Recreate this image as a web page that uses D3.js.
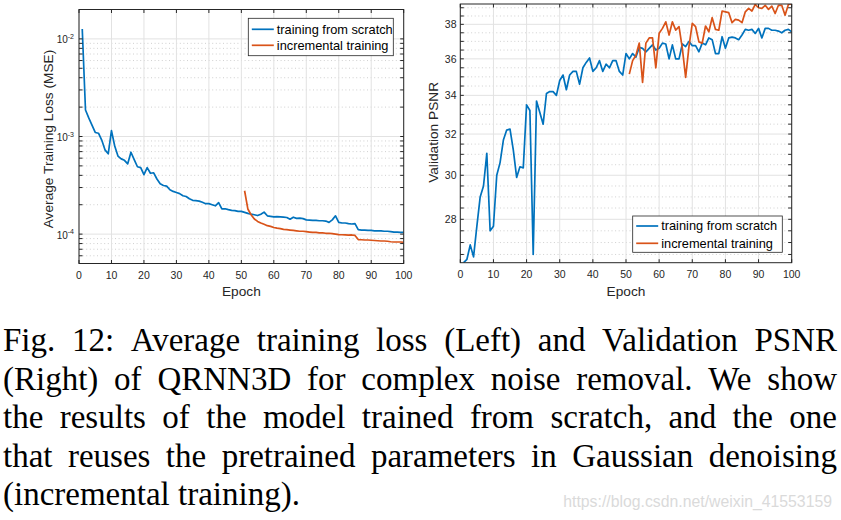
<!DOCTYPE html>
<html><head><meta charset="utf-8">
<script src="https://cdn.jsdelivr.net/npm/d3@7"></script>
<style>body{margin:0;background:#fff;} svg{display:block;}</style>
</head><body>
<svg id="c" width="841" height="520"></svg>
<script>
// ---------------- DATA ----------------
const epochsScratch = d3.range(1, 101);
const epochsIncremental = d3.range(51, 101);
const xTicks = [0,10,20,30,40,50,60,70,80,90,100];

const lossScratch = [
 1.26e-2,1.87e-3,1.55e-3,1.31e-3,1.10e-3,1.08e-3,9.2e-4,7.3e-4,6.65e-4,1.15e-3,
 8.0e-4,6.3e-4,5.9e-4,5.7e-4,5.25e-4,6.9e-4,5.8e-4,4.9e-4,4.8e-4,4.07e-4,
 4.8e-4,4.2e-4,4.25e-4,3.67e-4,3.28e-4,3.15e-4,3.1e-4,2.85e-4,2.74e-4,2.67e-4,
 2.6e-4,2.47e-4,2.43e-4,2.3e-4,2.22e-4,2.2e-4,2.18e-4,2.12e-4,2.05e-4,2.05e-4,
 2.0e-4,1.95e-4,2.1e-4,1.81e-4,1.82e-4,1.78e-4,1.75e-4,1.74e-4,1.71e-4,1.71e-4,
 1.67e-4,1.63e-4,1.6e-4,1.58e-4,1.55e-4,1.6e-4,1.68e-4,1.54e-4,1.52e-4,1.5e-4,
 1.51e-4,1.5e-4,1.49e-4,1.48e-4,1.42e-4,1.49e-4,1.45e-4,1.46e-4,1.44e-4,1.4e-4,
 1.39e-4,1.38e-4,1.38e-4,1.37e-4,1.37e-4,1.36e-4,1.32e-4,1.4e-4,1.54e-4,1.32e-4,
 1.3e-4,1.3e-4,1.28e-4,1.27e-4,1.28e-4,1.11e-4,1.1e-4,1.1e-4,1.09e-4,1.09e-4,
 1.08e-4,1.08e-4,1.08e-4,1.07e-4,1.07e-4,1.06e-4,1.05e-4,1.05e-4,1.04e-4,1.04e-4
];
const lossIncremental = [
 2.78e-4,1.81e-4,1.58e-4,1.43e-4,1.35e-4,1.30e-4,1.26e-4,1.22e-4,1.20e-4,1.17e-4,
 1.15e-4,1.14e-4,1.12e-4,1.11e-4,1.10e-4,1.09e-4,1.08e-4,1.07e-4,1.07e-4,1.06e-4,
 1.05e-4,1.04e-4,1.04e-4,1.03e-4,1.03e-4,1.02e-4,1.02e-4,1.01e-4,1.0e-4,9.9e-5,
 9.85e-5,9.8e-5,9.75e-5,9.8e-5,9.7e-5,8.8e-5,8.75e-5,8.7e-5,8.7e-5,8.65e-5,
 8.6e-5,8.55e-5,8.5e-5,8.5e-5,8.45e-5,8.35e-5,8.3e-5,8.3e-5,8.3e-5,8.25e-5
];
const lossTicks = [1e-4, 1e-3, 1e-2];
const lossTickExp = ["-4", "-3", "-2"];

const psnrScratch = [
 26.16,26.3,26.9,26.4,27.7,29.0,29.5,31.05,27.5,27.7,
 30.0,30.6,31.7,32.2,32.25,31.2,29.9,30.4,30.35,33.5,
 33.2,26.5,33.7,33.1,32.5,34.1,34.2,34.2,34.0,34.8,
 35.1,34.3,35.1,35.3,35.3,34.6,35.5,35.8,36.05,35.3,
 35.5,35.9,35.3,35.7,35.5,35.9,35.9,35.3,35.1,36.3,
 36.0,36.3,36.1,36.65,36.6,36.4,36.6,36.8,36.5,36.6,
 36.9,36.85,36.0,36.8,36.0,36.0,36.85,36.7,37.0,36.75,
 36.75,36.4,36.9,36.8,37.2,37.1,36.3,36.3,37.27,36.6,
 37.2,37.25,37.2,37.1,37.37,37.7,37.65,37.7,37.46,37.76,
 37.2,37.76,37.76,37.65,37.65,37.6,37.5,37.65,37.7,37.56
];
const psnrIncremental = [
 35.15,35.9,36.2,36.9,34.7,36.9,37.2,37.2,35.5,37.47,
 37.76,38.15,37.37,38.15,37.66,37.86,36.6,34.97,36.7,38.06,
 37.86,36.97,36.9,37.9,37.56,38.4,37.7,37.65,38.8,38.75,
 38.7,38.1,38.3,38.25,38.1,38.75,38.96,38.8,39.2,39.0,
 38.96,39.15,38.9,39.1,38.65,39.15,39.15,38.55,39.2,39.23
];
const psnrTicks = [28, 30, 32, 34, 36, 38];

const seriesNames = ["training from scratch", "incremental training"];
const seriesColors = ["#0072BD", "#D95319"];

const captionLines = [
 "Fig. 12: Average training loss (Left) and Validation PSNR",
 "(Right) of QRNN3D for complex noise removal. We show",
 "the results of the model trained from scratch, and the one",
 "that reuses the pretrained parameters in Gaussian denoising",
 "(incremental training)."
];
const watermark = "https://blog.csdn.net/weixin_41553159";

// ---------------- DRAW ----------------
const svg = d3.select("#c");
const AX = "#262626";
const SANS = "'Liberation Sans', Arial, Helvetica, sans-serif";

function panel(o) {
  const g = svg.append("g");
  const x = d3.scaleLinear().domain([0, 100]).range([o.left, o.right]);
  const y = o.y;
  const [yb, yt] = [o.bottom, o.top];
  const clipId = "clip" + o.id;
  svg.append("clipPath").attr("id", clipId).append("rect")
    .attr("x", o.left).attr("y", yt).attr("width", o.right - o.left).attr("height", yb - yt);

  // minor grid (dotted)
  g.append("g").selectAll("line").data(o.minor).join("line")
    .attr("x1", o.left).attr("x2", o.right)
    .attr("y1", d => y(d)).attr("y2", d => y(d))
    .attr("stroke", "#c4c4c4").attr("stroke-width", 0.8).attr("stroke-dasharray", "1,2.6");
  // major grid
  g.append("g").selectAll("line").data(o.major).join("line")
    .attr("x1", o.left).attr("x2", o.right)
    .attr("y1", d => y(d)).attr("y2", d => y(d))
    .attr("stroke", "#e2e2e2").attr("stroke-width", 1);
  g.append("g").selectAll("line").data(xTicks).join("line")
    .attr("x1", d => x(d)).attr("x2", d => x(d))
    .attr("y1", yt).attr("y2", yb)
    .attr("stroke", "#e2e2e2").attr("stroke-width", 1);

  // lines
  const line = d3.line().x(d => x(d[0])).y(d => y(d[1]));
  o.series.forEach((s, i) => {
    g.append("path").datum(d3.zip(s.x, s.v))
      .attr("clip-path", `url(#${clipId})`)
      .attr("d", line).attr("fill", "none")
      .attr("stroke", seriesColors[i]).attr("stroke-width", 1.7)
      .attr("stroke-linejoin", "round");
  });

  // box
  g.append("rect").attr("x", o.left).attr("y", yt)
    .attr("width", o.right - o.left).attr("height", yb - yt)
    .attr("fill", "none").attr("stroke", AX).attr("stroke-width", 1);

  // ticks inward
  const tl = 3.5;
  const tg = g.append("g").attr("stroke", AX).attr("stroke-width", 1);
  xTicks.forEach(t => {
    tg.append("line").attr("x1", x(t)).attr("x2", x(t)).attr("y1", yb).attr("y2", yb - tl);
    tg.append("line").attr("x1", x(t)).attr("x2", x(t)).attr("y1", yt).attr("y2", yt + tl);
  });
  o.major.concat(o.minor).forEach(t => {
    tg.append("line").attr("x1", o.left).attr("x2", o.left + tl).attr("y1", y(t)).attr("y2", y(t));
    tg.append("line").attr("x1", o.right).attr("x2", o.right - tl).attr("y1", y(t)).attr("y2", y(t));
  });

  // x tick labels
  g.append("g").selectAll("text").data(xTicks).join("text")
    .attr("x", d => x(d)).attr("y", yb + 15)
    .attr("text-anchor", "middle").attr("font-family", SANS).attr("font-size", 10.5)
    .attr("fill", AX).text(d => d);

  // y tick labels
  o.yLabels(g, y);

  // axis labels
  g.append("text").attr("x", (o.left + o.right) / 2).attr("y", 295.5)
    .attr("text-anchor", "middle").attr("font-family", SANS).attr("font-size", 13.7)
    .attr("fill", AX).text("Epoch");
  g.append("text").attr("transform", `translate(${o.ylabX},${o.ylabY}) rotate(-90)`)
    .attr("text-anchor", "middle").attr("font-family", SANS).attr("font-size", 13.7)
    .attr("fill", AX).text(o.ylabel);

  // legend
  const L = o.legend;
  const lg = g.append("g");
  lg.append("rect").attr("x", L.x).attr("y", L.y).attr("width", L.w).attr("height", L.h)
    .attr("fill", "#fff").attr("stroke", AX).attr("stroke-width", 0.8);
  seriesNames.forEach((n, i) => {
    const cy = L.y + L.r0 + i * L.dy;
    lg.append("line").attr("x1", L.x + 3.5).attr("x2", L.x + 25.5).attr("y1", cy).attr("y2", cy)
      .attr("stroke", seriesColors[i]).attr("stroke-width", 1.7);
    lg.append("text").attr("x", L.x + 28.5).attr("y", cy).attr("dy", "0.35em")
      .attr("font-family", SANS).attr("font-size", 12.8).attr("fill", "#000").text(n);
  });
}

// left: training loss (log)
const yLoss = d3.scaleLog().domain([5e-5, 2e-2]).range([263.5, 9.5]);
const lossMinor = [];
[-5, -4, -3].forEach(e => d3.range(2, 10).forEach(k => {
  const v = k * Math.pow(10, e);
  if (v > 5.01e-5 && v < 1.99e-2) lossMinor.push(v);
}));
panel({
  id: "L", left: 79, right: 403.7, top: 9.5, bottom: 263.5, y: yLoss,
  major: lossTicks, minor: lossMinor,
  series: [{x: epochsScratch, v: lossScratch}, {x: epochsIncremental, v: lossIncremental}],
  ylabel: "Average Training Loss (MSE)", ylabX: 52.5, ylabY: 139,
  legend: {x: 248.3, y: 18.3, w: 145, h: 37.4, r0: 11, dy: 16},
  yLabels: (g, y) => {
    lossTicks.forEach((t, i) => {
      const tx = g.append("text").attr("x", 74).attr("y", y(t) + 4.5)
        .attr("text-anchor", "end").attr("font-family", SANS).attr("fill", AX)
        .attr("font-size", 10);
      tx.append("tspan").text("10");
      tx.append("tspan").attr("dy", -4.5).attr("font-size", 7).text(lossTickExp[i]);
    });
  }
});

// right: validation PSNR (log)
const yPsnr = d3.scaleLog().domain([26.16, 39.23]).range([262.7, 4]);
const psnrMinor = d3.range(26.5, 39.01, 0.5).filter(v => !psnrTicks.includes(v));
panel({
  id: "R", left: 460.3, right: 791.7, top: 4, bottom: 262.7, y: yPsnr,
  major: psnrTicks, minor: psnrMinor,
  series: [{x: epochsScratch, v: psnrScratch}, {x: epochsIncremental, v: psnrIncremental}],
  ylabel: "Validation PSNR", ylabX: 437.5, ylabY: 132.4,
  legend: {x: 632.7, y: 216, w: 149.6, h: 36.3, r0: 10, dy: 17.3},
  yLabels: (g, y) => {
    g.append("g").selectAll("text").data(psnrTicks).join("text")
      .attr("x", 456.5).attr("y", d => y(d)).attr("dy", "0.35em")
      .attr("text-anchor", "end").attr("font-family", SANS).attr("font-size", 10.5)
      .attr("fill", AX).text(d => d);
  }
});

// caption (justified)
const SERIF = "'Liberation Serif', 'Times New Roman', serif";
const capLeft = 3, capRight = 837;
const baselines = [351, 389.5, 428, 466.5, 505];
captionLines.forEach((ln, li) => {
  const words = ln.split(" ");
  const nodes = words.map(w => svg.append("text").attr("y", baselines[li])
    .attr("font-family", SERIF).attr("font-size", 33).attr("fill", "#000").text(w));
  const widths = nodes.map(n => n.node().getComputedTextLength());
  const total = d3.sum(widths);
  const last = li === captionLines.length - 1;
  const gap = last ? 33 * 0.25 : (capRight - capLeft - total) / (words.length - 1);
  let cx = capLeft;
  nodes.forEach((n, i) => { n.attr("x", cx); cx += widths[i] + gap; });
});

// watermark
svg.append("text").attr("x", 832).attr("y", 507).attr("text-anchor", "end")
  .attr("font-family", SANS).attr("font-size", 15.8).attr("fill", "#dadada").text(watermark);
</script>
</body></html>
